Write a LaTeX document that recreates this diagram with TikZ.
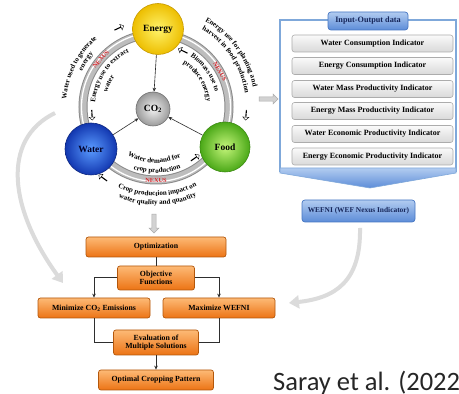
\documentclass[tikz,border=0pt]{standalone}
\usepackage{fontspec}
\setmainfont{Liberation Serif}
\newfontfamily\citefont{Carlito}
\usetikzlibrary{decorations.text,shapes.arrows,calc,arrows.meta}

\definecolor{energyin}{HTML}{FFF36A}
\definecolor{energyout}{HTML}{EDBE00}
\definecolor{energyedge}{HTML}{C79A00}
\definecolor{waterin}{HTML}{5A9BFF}
\definecolor{waterout}{HTML}{1237B0}
\definecolor{wateredge}{HTML}{0D2780}
\definecolor{foodin}{HTML}{C4F57A}
\definecolor{foodout}{HTML}{4AA817}
\definecolor{foodedge}{HTML}{3A8A10}
\definecolor{co2in}{HTML}{F2F2F2}
\definecolor{co2out}{HTML}{9A9A9A}
\definecolor{co2edge}{HTML}{707070}
\definecolor{ringdark}{HTML}{8A8A8A}
\definecolor{ringmid}{HTML}{BDBDBD}
\definecolor{panelblue}{HTML}{7FA8DA}
\definecolor{bluetop}{HTML}{B2CCF0}
\definecolor{bluebot}{HTML}{5C8CD8}
\definecolor{bluedark}{HTML}{4676C2}
\definecolor{navytext}{HTML}{16265A}
\definecolor{orangetop}{HTML}{FDBA76}
\definecolor{orangebot}{HTML}{EC7314}
\definecolor{orangeedge}{HTML}{B4570B}
\definecolor{conncol}{HTML}{2E2E2E}
\definecolor{citegray}{HTML}{262626}
\definecolor{nexusred}{HTML}{D8262C}

\newcommand\cvfont{\bfseries\fontsize{7}{8}\selectfont}
\newcommand\arctxt[4]{%
  \path[decorate,decoration={text along path,text align=center,text={|\cvfont|#4}}]
    ($(C)+({#2+#3}:#1pt)$) arc[start angle={#2+#3}, end angle={#2-#3}, radius=#1pt];}

\begin{document}
\begin{tikzpicture}[x=1pt,y=1pt,
  ball/.style={circle, inner sep=0pt, font=\bfseries\fontsize{9.5}{10}\selectfont, line width=0.6pt},
  indbox/.style={rectangle, rounded corners=2.5pt, draw=gray!65, line width=0.6pt, top color=gray!4, bottom color=gray!30, minimum width=161pt, minimum height=17pt, inner sep=0pt, font=\bfseries\fontsize{8}{9}\selectfont},
  bluebox/.style={rectangle, rounded corners=3pt, draw=bluedark, line width=0.7pt, top color=bluetop, bottom color=bluebot, inner sep=0pt, text=navytext, font=\bfseries\fontsize{7.4}{8}\selectfont},
  obox/.style={rectangle, rounded corners=2.5pt, draw=orangeedge, line width=0.7pt, top color=orangetop, bottom color=orangebot, inner sep=0pt, align=center, font=\bfseries\fontsize{7.8}{8.6}\selectfont},
  conn/.style={draw=conncol, line width=1pt},
  tipped/.style={-{Stealth[length=4pt,width=3.5pt]}},
  grayarrow/.style={single arrow, draw=gray!65, fill=gray!35, line width=0.5pt, inner sep=1.5pt, minimum height=19pt, minimum width=10pt, single arrow head extend=2.5pt},
  smallarr/.style={single arrow, draw=black, fill=white, line width=0.4pt, inner sep=0pt, minimum height=10pt, minimum width=6pt, single arrow head extend=1.5pt},
  nexus/.style={text=nexusred, font=\bfseries\fontsize{6.3}{7}\selectfont, inner sep=0pt},
  curvearrow/.style={line width=4pt, draw=gray!28, -{Triangle[length=10pt,width=13pt]}}
]
\useasboundingbox (0,0) rectangle (459,394);
\fill[white] (0,0) rectangle (459,394);

\coordinate (C) at (156,287);

% gray curved arrows
\coordinate (lcs) at (55,281);
\coordinate (lce) at (63,111);
\draw[curvearrow] (lcs) .. controls (0,254) and (10,184) .. (lce);
\coordinate (rcs) at (360,166);
\coordinate (rce) at (289,91);
\draw[curvearrow] (rcs) .. controls (361,112) and (335,96) .. (rce);

% ring
\draw[line width=9pt, color=ringdark] (C) circle[radius=73pt];
\draw[line width=7pt, color=ringmid] (C) circle[radius=73pt];
\draw[line width=1.3pt, white] (C) circle[radius=74.5pt];

% balls
\node[ball, minimum size=51pt, draw=energyedge, inner color=energyin, outer color=energyout] (energy) at (158,365) {Energy};
\node[ball, minimum size=52pt, draw=wateredge, inner color=waterin, outer color=waterout, text=black!85!blue] (water) at (91,245) {Water};
\node[ball, minimum size=50pt, draw=foodedge, inner color=foodin, outer color=foodout] (food) at (225,247) {Food};
\node[ball, minimum size=34pt, draw=co2edge, inner color=co2in, outer color=co2out] (co2) at (153,285) {CO\textsubscript{2}};

\draw[conncol, line width=0.6pt, -{Stealth[length=4pt,width=3.5pt]}] (energy) -- (co2);
\draw[conncol, line width=0.6pt, -{Stealth[length=4pt,width=3.5pt]}] (water) -- (co2);
\draw[conncol, line width=0.6pt, -{Stealth[length=4pt,width=3.5pt]}] (food) -- (co2);

% NEXUS labels
\node[nexus, rotate=49] (nx1) at ($(C)+(139:73pt)$) {NEXUS};
\node[nexus, rotate=-61] (nx2) at ($(C)+(29:73pt)$) {NEXUS};
\node[nexus] (nx3) at ($(C)+(270:73pt)$) {NEXUS};

% curved texts
\arctxt{90}{153}{34}{Water used to generate}
\arctxt{82}{147}{20}{energy}
\arctxt{61}{146}{44}{Energy use to extract}
\arctxt{51}{154}{20}{water}
\arctxt{99}{36}{40}{Energy use for planting and}
\arctxt{90}{34}{40}{harvest in food production}
\arctxt{61}{35}{38}{Biomass use to}
\arctxt{51}{32}{34}{produce energy}
\arctxt{56}{268}{-44}{Water demand for}
\arctxt{66}{271}{-38}{crop production}
\arctxt{89}{271}{-40}{Crop production impact on}
\arctxt{98}{271}{-38}{water quality and quantity}

% small hollow arrows
\node[smallarr, rotate=25] (sa1) at (119,366) {};
\node[smallarr, rotate=-87] (sa2) at (92,279) {};
\node[smallarr, rotate=154] (sa3) at (183,343) {};
\node[smallarr, rotate=-95] (sa4) at (246,279) {};
\node[smallarr, rotate=35] (sa5) at (195,236) {};
\node[smallarr, rotate=144] (sa6) at (103,216) {};

% input-output panel
\draw[panelblue, line width=1.2pt] (280,222) -- (280,374) -- (456,374) -- (456,222);
\shade[top color=bluetop, bottom color=bluebot, draw=panelblue, line width=0.6pt] (280,226) -- (456,226) -- (456,221) -- (370,206) -- (280,221) -- cycle;
\node[bluebox, minimum width=80pt, minimum height=18pt, font=\bfseries\fontsize{8.2}{9}\selectfont] (io) at (368,373) {Input-Output data};
\node[indbox] (i1) at (372.5,350.5) {Water Consumption Indicator};
\node[indbox] (i2) at (372.5,328) {Energy Consumption Indicator};
\node[indbox] (i3) at (372.5,305) {Water Mass Productivity Indicator};
\node[indbox] (i4) at (372.5,283) {Energy Mass Productivity Indicator};
\node[indbox] (i5) at (372.5,260) {Water Economic Productivity Indicator};
\node[indbox] (i6) at (372.5,237.5) {Energy Economic Productivity Indicator};
\node[bluebox, minimum width=113pt, minimum height=22pt] (wefni) at (358.5,183) {WEFNI (WEF Nexus Indicator)};

% gray block arrows
\node[grayarrow] (ga1) at (267.5,295) {};
\node[grayarrow, shape border rotate=270] (ga2) at (154,171.5) {};

% flowchart
\node[obox, minimum width=140pt, minimum height=20pt] (opt) at (156,147) {Optimization};
\node[obox, minimum width=77pt, minimum height=24pt] (obj) at (156,116) {Objective\\Functions};
\node[obox, minimum width=112pt, minimum height=20pt] (mini) at (94,86) {Minimize CO\textsubscript{2} Emissions};
\node[obox, minimum width=112pt, minimum height=20pt] (maxi) at (219,86) {Maximize WEFNI};
\node[obox, minimum width=85pt, minimum height=25pt] (eval) at (156,51.5) {Evaluation of\\Multiple Solutions};
\node[obox, minimum width=115pt, minimum height=20pt] (optc) at (156,14) {Optimal Cropping Pattern};

\draw[conn] (opt) -- (obj);
\draw[conn, tipped] (obj.west) -| (mini.north);
\draw[conn, tipped] (obj.east) -| (maxi.north);
\draw[conn] (mini.south) |- (eval.west);
\draw[conn] (maxi.south) |- (eval.east);
\draw[conn, tipped] (eval) -- (optc);

% citation
\node[anchor=base west, inner sep=0pt, text=citegray, font=\citefont\fontsize{26.5}{27}\selectfont] (cite) at (273,3) {Saray et al. (2022)};
\end{tikzpicture}
\end{document}
